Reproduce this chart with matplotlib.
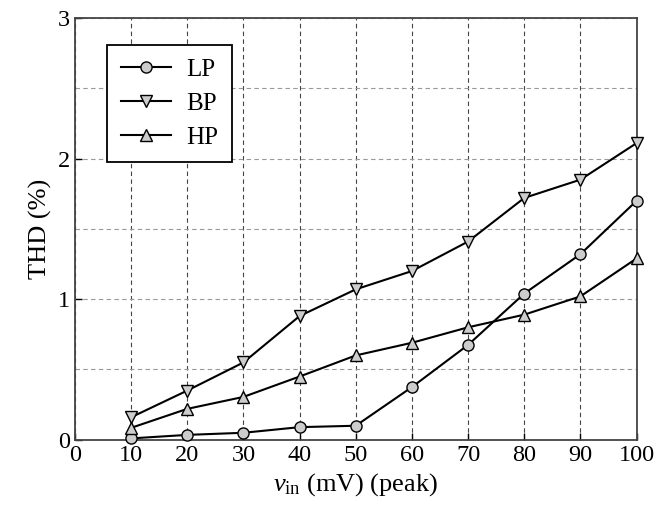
import matplotlib
matplotlib.use("Agg")
import matplotlib.pyplot as plt
from matplotlib.ticker import MultipleLocator

plt.rcParams["font.family"] = ["Liberation Serif", "DejaVu Serif"]
plt.rcParams["mathtext.fontset"] = "custom"
plt.rcParams["mathtext.rm"] = "Liberation Serif"
plt.rcParams["mathtext.it"] = "Liberation Serif:italic"

# --- data ---
vin = [10, 20, 30, 40, 50, 60, 70, 80, 90, 100]
lp = [0.01, 0.035, 0.05, 0.09, 0.10, 0.375, 0.675, 1.04, 1.32, 1.70]
bp = [0.16, 0.35, 0.55, 0.88, 1.07, 1.20, 1.41, 1.72, 1.85, 2.11]
hp = [0.085, 0.22, 0.305, 0.45, 0.60, 0.69, 0.80, 0.89, 1.02, 1.29]

fig = plt.figure(figsize=(6.57, 5.12), dpi=100)
ax = fig.add_axes([0.114, 0.141, 0.855, 0.824])

style = dict(color="black", lw=1.5, ms=8, mfc="#cccccc", mec="black", mew=1.0, clip_on=False, zorder=3)
ax.plot(vin, lp, marker="o", label="LP", **style)
ax.plot(vin, bp, marker="v", label="BP", **style)
ax.plot(vin, hp, marker="^", label="HP", **style)

ax.set_xlim(0, 100)
ax.set_ylim(0, 3)
ax.xaxis.set_major_locator(MultipleLocator(10))
ax.yaxis.set_major_locator(MultipleLocator(1))
ax.yaxis.set_minor_locator(MultipleLocator(0.5))
ax.tick_params(which="both", direction="in", labelsize=17.5, length=5, width=1)
ax.tick_params(which="minor", length=0)

ax.grid(axis="x", which="major", ls=(0, (4, 3)), color="#444444", lw=0.8)
ax.grid(axis="y", which="both", ls=(0, (4, 3)), color="#999999", lw=0.8)
ax.set_axisbelow(True)

for s in ax.spines.values():
    s.set_linewidth(1.3)
    s.set_color("#444444")

ax.set_xlabel(r"$v_{\mathrm{in}}$ (mV) (peak)", fontsize=19, labelpad=4)
ax.set_ylabel("THD (%)", fontsize=19)

leg = ax.legend(loc="upper left", bbox_to_anchor=(0.058, 0.936), fontsize=18,
                fancybox=False, framealpha=1, edgecolor="black", borderaxespad=0,
                handlelength=2.0, handletextpad=0.6, borderpad=0.55, labelspacing=0.45)
leg.get_frame().set_linewidth(1.3)

fig.savefig("out.png", dpi=100)
